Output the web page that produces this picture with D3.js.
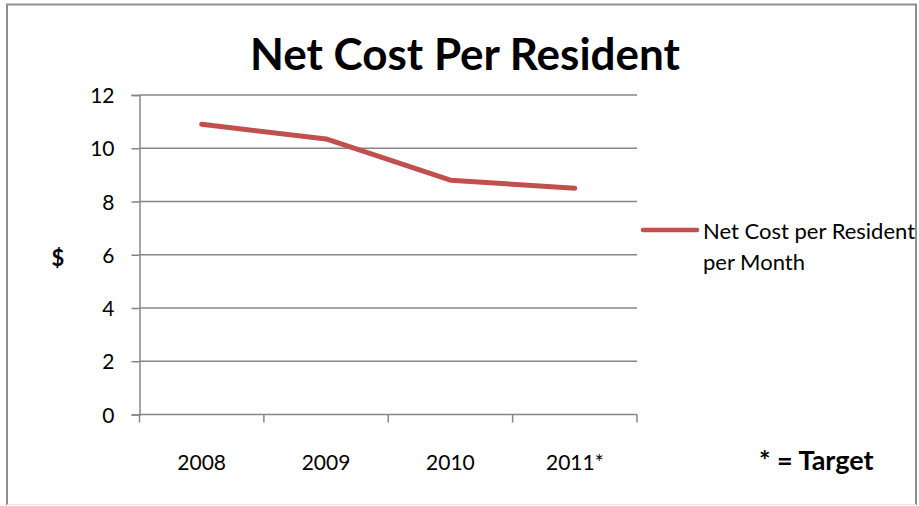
<!DOCTYPE html>
<html>
<head>
<meta charset="utf-8">
<script src="https://cdn.jsdelivr.net/npm/d3@7/dist/d3.min.js"></script>
<style>
  html, body { margin: 0; padding: 0; background: #fff; }
  svg { display: block; }
  text { font-family: Lato, "Open Sans", sans-serif; fill: #000; }
</style>
</head>
<body>
<svg id="chart" width="919" height="506"></svg>
<script>
// Chart data
const years = ["2008", "2009", "2010", "2011*"];
const netCost = [10.9, 10.35, 8.8, 8.5];
const yTicks = [0, 2, 4, 6, 8, 10, 12];
const seriesName = ["Net Cost per Resident", "per Month"];
const chartTitle = "Net Cost Per Resident";
const yAxisTitle = "$";
const footNote = "* = Target";

const svg = d3.select("#chart");
const plot = { left: 139.5, right: 637, top: 95, bottom: 414.5 };
const gridColor = "#868686";
const lineColor = "#C0504D";
const labelSize = 21;

// Outer frame: left, top and right edges, with a faint bottom edge
svg.append("path")
  .attr("d", "M7,505 V4.5 H916 V505")
  .attr("fill", "none")
  .attr("stroke", "#8f8f8f")
  .attr("stroke-width", 2);
svg.append("line")
  .attr("x1", 7).attr("x2", 916)
  .attr("y1", 504.5).attr("y2", 504.5)
  .attr("stroke", "#e6e6e6").attr("stroke-width", 1);

const x = d3.scaleBand().domain(years).range([plot.left, plot.right]);
const y = d3.scaleLinear().domain([0, 12]).range([plot.bottom, plot.top]);

// Horizontal gridlines
svg.append("g")
  .selectAll("line")
  .data(yTicks.filter(d => d > 0))
  .join("line")
  .attr("x1", plot.left).attr("x2", plot.right)
  .attr("y1", d => y(d)).attr("y2", d => y(d))
  .attr("stroke", gridColor).attr("stroke-width", 1.5);

// Y axis
const yAxis = svg.append("g")
  .attr("transform", `translate(${plot.left},0)`)
  .call(d3.axisLeft(y).tickValues(yTicks).tickSize(8).tickPadding(17).tickFormat(d3.format("d")));
yAxis.select(".domain").attr("stroke", gridColor).attr("stroke-width", 1.5);
yAxis.selectAll(".tick line").attr("stroke", gridColor).attr("stroke-width", 1.5);
yAxis.selectAll(".tick text")
  .attr("font-family", "Lato, 'Open Sans', sans-serif")
  .attr("font-size", labelSize).attr("fill", "#000")
  .attr("dy", "0.36em");

// X axis: ticks sit on category boundaries
const xAxis = svg.append("g")
  .attr("transform", `translate(0,${plot.bottom})`);
xAxis.append("line")
  .attr("x1", plot.left).attr("x2", plot.right)
  .attr("stroke", gridColor).attr("stroke-width", 1.5);
const bounds = years.map(d => x(d)).concat([x(years[years.length - 1]) + x.bandwidth()]);
xAxis.selectAll("line.tk")
  .data(bounds)
  .join("line")
  .attr("class", "tk")
  .attr("x1", d => d).attr("x2", d => d)
  .attr("y1", 0).attr("y2", 8)
  .attr("stroke", gridColor).attr("stroke-width", 1.5);
xAxis.selectAll("text")
  .data(years)
  .join("text")
  .attr("x", d => x(d) + x.bandwidth() / 2)
  .attr("y", 55)
  .attr("text-anchor", "middle")
  .attr("font-size", labelSize)
  .text(d => d);

// Series line
const line = d3.line()
  .x((d, i) => x(years[i]) + x.bandwidth() / 2)
  .y(d => y(d));
svg.append("path")
  .datum(netCost)
  .attr("d", line)
  .attr("fill", "none")
  .attr("stroke", lineColor)
  .attr("stroke-width", 5)
  .attr("stroke-linecap", "round")
  .attr("stroke-linejoin", "round");

// Title, sized to its allotted width
const title = svg.append("text")
  .attr("x", 465).attr("y", 70)
  .attr("text-anchor", "middle")
  .attr("font-weight", "bold")
  .attr("font-size", 40)
  .text(chartTitle);
const tw = title.node().getComputedTextLength();
title.attr("font-size", 40 * 430 / tw);

// Y axis title
svg.append("text")
  .attr("x", 58).attr("y", 266)
  .attr("text-anchor", "middle")
  .attr("font-weight", "bold")
  .attr("font-size", 22)
  .text(yAxisTitle);

// Legend
svg.append("line")
  .attr("x1", 643).attr("x2", 697)
  .attr("y1", 230).attr("y2", 230)
  .attr("stroke", lineColor).attr("stroke-width", 4.5)
  .attr("stroke-linecap", "round");
svg.append("g")
  .selectAll("text")
  .data(seriesName)
  .join("text")
  .attr("x", 703)
  .attr("y", (d, i) => 239 + i * 31)
  .attr("font-size", 22)
  .text(d => d);

// Footnote
svg.append("text")
  .attr("x", 759).attr("y", 470)
  .attr("font-weight", "bold")
  .attr("font-size", 27)
  .text(footNote);
</script>
</body>
</html>
